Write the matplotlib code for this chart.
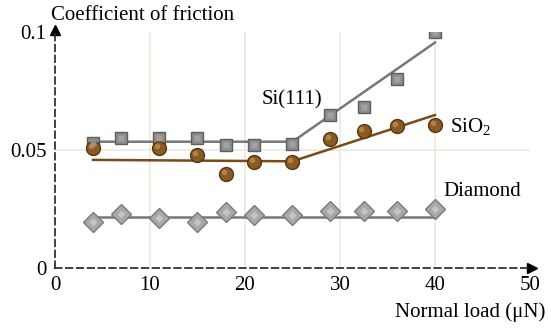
import matplotlib
matplotlib.use('Agg')
import matplotlib.pyplot as plt
import numpy as np

plt.rcParams['font.family'] = ['Liberation Serif', 'DejaVu Serif']
plt.rcParams['mathtext.fontset'] = 'custom'
plt.rcParams['mathtext.rm'] = 'Liberation Serif'

# data
load_si = [4, 7, 11, 15, 18, 21, 25, 29, 32.5, 36, 40]
mu_si = [0.053, 0.055, 0.055, 0.055, 0.052, 0.052, 0.0525, 0.065, 0.068, 0.080, 0.100]
fit_si_x = [3.5, 25, 40]
fit_si_y = [0.0535, 0.0535, 0.0955]

load_sio2 = [4, 11, 15, 18, 21, 25, 29, 32.5, 36, 40]
mu_sio2 = [0.051, 0.051, 0.048, 0.040, 0.045, 0.045, 0.0545, 0.058, 0.060, 0.0605]
fit_sio2_x = [4, 25, 40]
fit_sio2_y = [0.0458, 0.0452, 0.0648]

load_dia = [4, 7, 11, 15, 18, 21, 25, 29, 32.5, 36, 40]
mu_dia = [0.0196, 0.0227, 0.021, 0.0194, 0.0239, 0.0225, 0.0225, 0.024, 0.024, 0.024, 0.0249]
fit_dia_x = [4, 40]
fit_dia_y = [0.0215, 0.0215]

x_ticks = [0, 10, 20, 30, 40, 50]
y_ticks = [0, 0.05, 0.1]
y_tick_labels = ['0', '0.05', '0.1']

fig = plt.figure(figsize=(5.51, 3.32), dpi=100, facecolor='white')
ax = fig.add_axes([0.0998, 0.1928, 0.862, 0.711])
ax.set_xlim(0, 50)
ax.set_ylim(0, 0.1)

# light grid
grid_c = '#eee9dd'
for gx in [10, 20, 30, 40]:
    ax.plot([gx, gx], [0, 0.1], color=grid_c, lw=1.2, zorder=0)
ax.plot([0, 50], [0.05, 0.05], color=grid_c, lw=1.2, zorder=0)

# fit lines
ax.plot(fit_si_x, fit_si_y, color='#777777', lw=1.8, zorder=2)
ax.plot(fit_sio2_x, fit_sio2_y, color='#7a4a1a', lw=1.8, zorder=2)
ax.plot(fit_dia_x, fit_dia_y, color='#777777', lw=1.8, zorder=2)

# markers (with a small highlight for the shaded look)
ax.plot(load_si, mu_si, 's', ms=8.5, mfc='#8c8c8c', mec='#5e5e5e', mew=1.0, ls='none', zorder=3)
ax.plot(load_si, mu_si, 's', ms=4, mfc='#b0b0b0', mec='none', ls='none', zorder=4, alpha=0.6)
ax.plot(load_sio2, mu_sio2, 'o', ms=10, mfc='#8a5a24', mec='#5a3510', mew=1.0, ls='none', zorder=3)
ax.plot(np.array(load_sio2) - 0.25, np.array(mu_sio2) + 0.0008, 'o', ms=4,
        mfc='#c4955a', mec='none', ls='none', zorder=4, alpha=0.7)
ax.plot(load_dia, mu_dia, 'D', ms=10, mfc='#a8a8a8', mec='#7a7a7a', mew=1.0, ls='none', zorder=3)
ax.plot(load_dia, mu_dia, 'D', ms=4, mfc='#d0d0d0', mec='none', ls='none', zorder=4, alpha=0.7)

# axes with dashed lines and arrows
for s in ['top', 'right']:
    ax.spines[s].set_visible(False)
for s in ['left', 'bottom']:
    ax.spines[s].set_linestyle((0, (4, 2.5)))
    ax.spines[s].set_linewidth(1.2)
    ax.spines[s].set_color('#222222')
ax.plot(1.005, 0, '>', color='black', ms=7, transform=ax.get_yaxis_transform(), clip_on=False)
ax.plot(0, 1.01, '^', color='black', ms=7, transform=ax.get_xaxis_transform(), clip_on=False)

ax.set_xticks(x_ticks)
ax.set_yticks(y_ticks)
ax.set_yticklabels(y_tick_labels)
ax.tick_params(length=0, labelsize=15)
ax.tick_params(axis='y', pad=6)
ax.tick_params(axis='x', pad=6)

# labels
fig.text(0.092, 0.952, 'Coefficient of friction', fontsize=15, ha='left', va='center')
fig.text(0.99, 0.06, 'Normal load (\u03bcN)', fontsize=15, ha='right', va='center')
ax.text(21.8, 0.0712, 'Si(111)', fontsize=15, ha='left', va='center')
ax.text(41.6, 0.0598, 'SiO$_2$', fontsize=15, ha='left', va='center')
ax.text(40.9, 0.0323, 'Diamond', fontsize=15, ha='left', va='center')

fig.savefig('out.png', dpi=100)
